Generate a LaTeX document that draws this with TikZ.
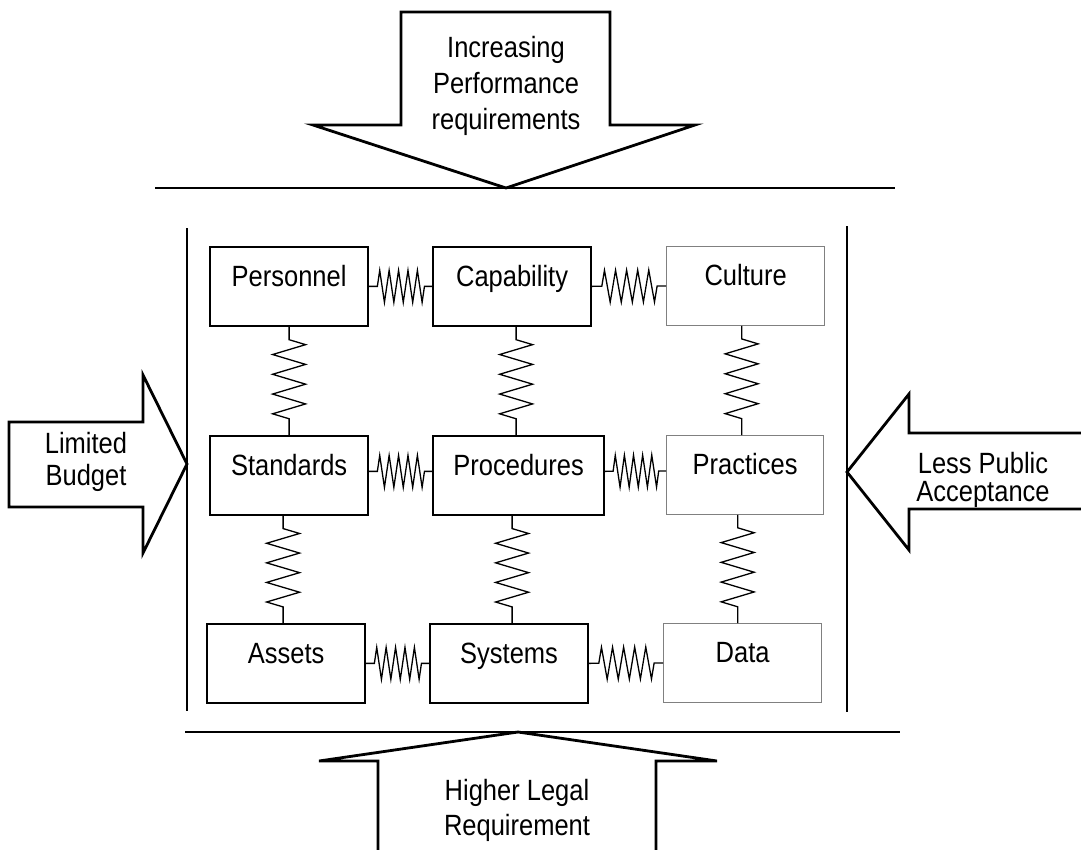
\documentclass[tikz,border=0pt]{standalone}
\usepackage{fontspec}
\setmainfont[FakeStretch=0.87]{Liberation Sans}
\usetikzlibrary{calc}
\begin{document}
\begin{tikzpicture}[x=1pt,y=-1pt,
  box/.style={draw=black, line width=2.2pt, inner sep=0pt, minimum width=#1,
    text height=39pt, text depth=39.5pt, anchor=north west,
    font=\fontsize{29.3}{30}\selectfont},
  graybox/.style={box=#1, draw=black!50, line width=1.3pt},
  spring/.style n args={4}{to path={
    -- ($(\tikztostart)!#1!(\tikztotarget)$)
    \foreach \k [evaluate=\k as \fa using {#1+(#2-#1)*(\k-0.75)/#3},
                 evaluate=\k as \fb using {#1+(#2-#1)*(\k-0.25)/#3}] in {1,...,#3}{
      -- ($(\tikztostart)!\fa!(\tikztotarget)!#4!90:(\tikztotarget)$)
      -- ($(\tikztostart)!\fb!(\tikztotarget)!#4!-90:(\tikztotarget)$)
    }
    -- ($(\tikztostart)!#2!(\tikztotarget)$)
    -- (\tikztotarget)
  }},
  hspring/.style={spring={0.13}{0.88}{5}{16pt}},
  vspring/.style={spring={0.12}{0.85}{4}{16.5pt}},
  springline/.style={line width=1.3pt, line join=miter},
  frame/.style={line width=1.8pt},
  bigarrow/.style={line width=2.8pt, fill=white, line join=miter},
  label/.style={align=center, inner sep=0pt},
]
\useasboundingbox (0,0) rectangle (1081,849);

% frame lines
\draw[frame] (155,188) -- (895,188);
\draw[frame] (185,732) -- (900,732);
\draw[frame] (187,228) -- (187,711);
\draw[frame] (847,226) -- (847,712);

% big arrows
\draw[bigarrow] (401,12) -- (610,12) -- (610,125) -- (695,125) -- (506,188)
  -- (313,125) -- (401,125) -- cycle;
\draw[bigarrow] (9,422) -- (143,422) -- (143,375) -- (187,464) -- (143,553)
  -- (143,507) -- (9,507) -- cycle;
\draw[bigarrow] (1090,433) -- (909,433) -- (909,394) -- (847,472) -- (909,550)
  -- (909,509) -- (1090,509);
\draw[bigarrow] (378,860) -- (378,761) -- (319,761) -- (518,732) -- (717,761)
  -- (656,761) -- (656,860);

\node[label, font=\fontsize{29.3}{36}\selectfont] (top) at (506,86)
  {Increasing\\Performance\\requirements};
\node[label, font=\fontsize{29.3}{32}\selectfont] (left) at (86,462)
  {Limited\\Budget};
\node[label, font=\fontsize{29.3}{28}\selectfont] (right) at (983,480)
  {Less Public\\Acceptance};
\node[label, font=\fontsize{29.3}{35}\selectfont] (bottom) at (517,810)
  {Higher Legal\\Requirement};

% boxes
\node[box=158pt] (pers) at (209,246) {Personnel};
\node[box=158pt] (capa) at (432,246) {Capability};
\node[graybox=158pt] (cult) at (666,246) {Culture};
\node[box=158pt] (stan) at (209,435) {Standards};
\node[box=171pt] (proc) at (432,435) {Procedures};
\node[graybox=157pt] (prac) at (666,435) {Practices};
\node[box=158pt] (asse) at (206,623) {Assets};
\node[box=158pt] (syst) at (429,623) {Systems};
\node[graybox=158pt] (data) at (663,623) {Data};

% horizontal springs
\draw[springline] (pers.east) to[hspring] (capa.west);
\draw[springline] (capa.east) to[hspring] (cult.west);
\draw[springline] ([yshift=4pt]stan.east) to[hspring] ([yshift=4pt]proc.west);
\draw[springline] ([yshift=4pt]proc.east) to[hspring] ([yshift=4pt]prac.west);
\draw[springline] (asse.east) to[hspring] (syst.west);
\draw[springline] (syst.east) to[hspring] (data.west);

% vertical springs
\draw[springline] (pers.south) to[vspring] (pers.south |- stan.north);
\draw[springline] ([xshift=4pt]capa.south) to[vspring] ([xshift=4pt]capa.south |- proc.north);
\draw[springline] ([xshift=-4pt]cult.south) to[vspring] ([xshift=-4pt]cult.south |- prac.north);
\draw[springline] ([xshift=-6pt]stan.south) to[vspring] ([xshift=-6pt]stan.south |- asse.north);
\draw[springline] ([xshift=-6.5pt]proc.south) to[vspring] ([xshift=-6.5pt]proc.south |- syst.north);
\draw[springline] ([xshift=-7.5pt]prac.south) to[vspring] ([xshift=-7.5pt]prac.south |- data.north);
\end{tikzpicture}
\end{document}
